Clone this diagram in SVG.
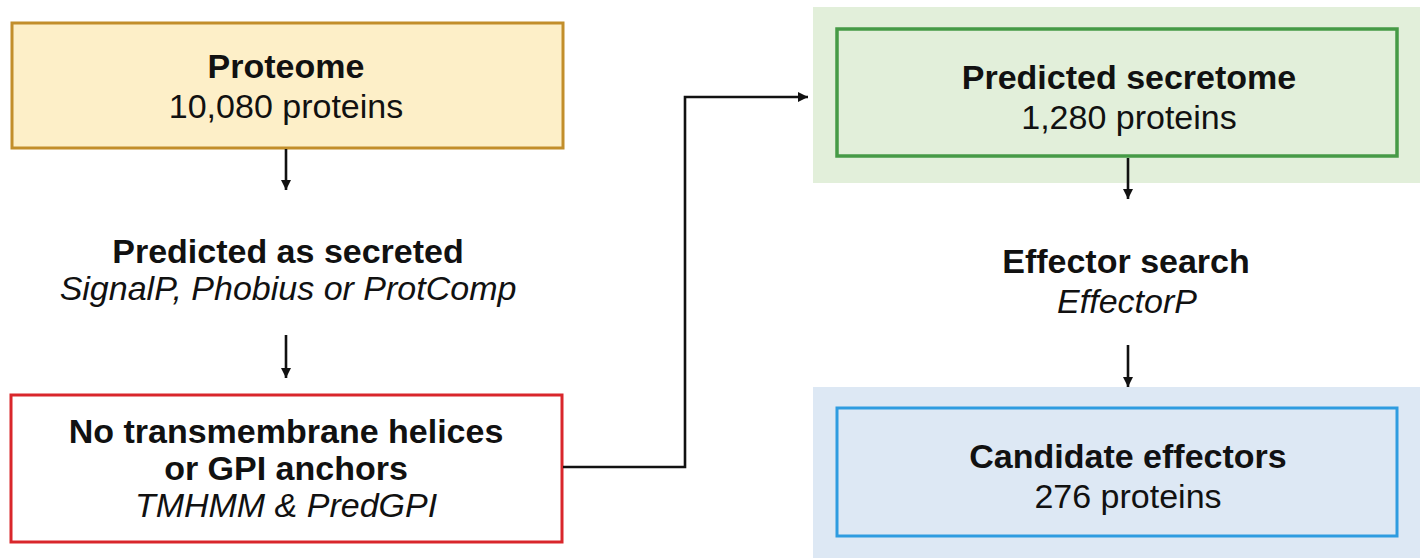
<svg xmlns="http://www.w3.org/2000/svg" width="1420" height="558" viewBox="0 0 1420 558">
  <defs>
    <marker id="arrowhead" viewBox="0 0 10 10" refX="10" refY="5" markerWidth="4" markerHeight="4" markerUnits="strokeWidth" orient="auto">
      <path d="M0,0 L10,5 L0,10 Z" fill="#111"/>
    </marker>
    <style>
      text { font-family: "Liberation Sans", Arial, Helvetica, sans-serif; font-size: 34px; fill: #111; text-anchor: middle; }
      .title { font-weight: bold; }
      .tool { font-style: italic; }
      .conn { fill: none; stroke: #111; stroke-width: 2.6; }
    </style>
  </defs>

  <rect width="1420" height="558" fill="#ffffff"/>

  <!-- Starting set -->
  <g id="proteome">
    <rect x="12" y="23" width="551" height="125" fill="#fdefc8" stroke="#c28e2b" stroke-width="3"/>
    <text class="title" x="286" y="78">Proteome</text>
    <text x="286" y="118">10,080 proteins</text>
  </g>

  <!-- Secretion prediction step -->
  <g id="secreted-step">
    <text class="title" x="288" y="263">Predicted as secreted</text>
    <text class="tool" x="288" y="300">SignalP, Phobius or ProtComp</text>
  </g>

  <!-- Membrane / GPI filter -->
  <g id="no-tm-filter">
    <rect x="11" y="395" width="551" height="147" fill="#ffffff" stroke="#d9262b" stroke-width="3"/>
    <text class="title" x="286" y="443">No transmembrane helices</text>
    <text class="title" x="286" y="480">or GPI anchors</text>
    <text class="tool" x="286" y="517">TMHMM &amp; PredGPI</text>
  </g>

  <!-- Secretome -->
  <g id="secretome">
    <rect x="813" y="7" width="607" height="176" fill="#e2efda"/>
    <rect x="837" y="29" width="560" height="127" fill="#e2efda" stroke="#469a46" stroke-width="3.5"/>
    <text class="title" x="1129" y="89">Predicted secretome</text>
    <text x="1129" y="129">1,280 proteins</text>
  </g>

  <!-- Effector prediction step -->
  <g id="effector-step">
    <text class="title" x="1126" y="273">Effector search</text>
    <text class="tool" x="1127" y="313">EffectorP</text>
  </g>

  <!-- Final candidates -->
  <g id="candidates">
    <rect x="813" y="387" width="607" height="171" fill="#dde8f4"/>
    <rect x="837" y="408" width="560" height="128" fill="#dde8f4" stroke="#2e9ce0" stroke-width="3"/>
    <text class="title" x="1128" y="468">Candidate effectors</text>
    <text x="1128" y="508">276 proteins</text>
  </g>

  <!-- Connectors -->
  <g id="connectors">
    <line class="conn" x1="286" y1="149" x2="286" y2="190" marker-end="url(#arrowhead)"/>
    <line class="conn" x1="286" y1="335" x2="286" y2="378" marker-end="url(#arrowhead)"/>
    <polyline class="conn" points="563,467 685,467 685,97 808,97" marker-end="url(#arrowhead)"/>
    <line class="conn" x1="1128" y1="158" x2="1128" y2="199" marker-end="url(#arrowhead)"/>
    <line class="conn" x1="1128" y1="345" x2="1128" y2="387" marker-end="url(#arrowhead)"/>
  </g>
</svg>
